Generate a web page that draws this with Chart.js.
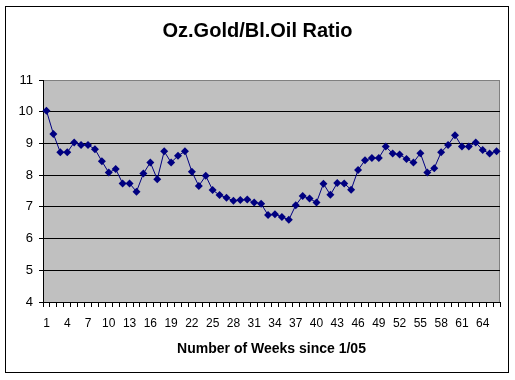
<!DOCTYPE html>
<html>
<head>
<meta charset="utf-8">
<script src="https://cdn.jsdelivr.net/npm/chart.js@4"></script>
<style>
  body { margin: 0; background: #fff; }
  #wrap { width: 515px; height: 380px; }
</style>
</head>
<body>
<div id="wrap"><canvas id="myChart" width="515" height="380"></canvas></div>
<script>
// weeks since 1/05
const weeks = [];
for (let i = 1; i <= 66; i++) weeks.push("" + i);

// oz gold / bbl oil ratio
const ratio = [
  10.03, 9.30, 8.72, 8.72, 9.03, 8.95, 8.95, 8.82, 8.44, 8.08,
  8.19, 7.74, 7.74, 7.48, 8.05, 8.40, 7.87, 8.75, 8.40, 8.61,
  8.75, 8.11, 7.66, 7.98, 7.53, 7.37, 7.29, 7.19, 7.22, 7.23,
  7.14, 7.10, 6.74, 6.77, 6.68, 6.59, 7.05, 7.34, 7.26, 7.14,
  7.73, 7.38, 7.75, 7.74, 7.54, 8.16, 8.47, 8.54, 8.54, 8.90,
  8.68, 8.65, 8.51, 8.40, 8.69, 8.08, 8.22, 8.72, 8.95, 9.26,
  8.90, 8.90, 9.03, 8.79, 8.68, 8.75
];

const yMin = 4;
const yMax = 11;

// gray plot area + outer frame, like the old excel look
const frame = {
  id: "frame",
  beforeDraw(chart) {
    const ctx = chart.ctx;
    const a = chart.chartArea;
    ctx.save();
    ctx.fillStyle = "#fff";
    ctx.fillRect(0, 0, chart.width, chart.height);
    ctx.fillStyle = "#c0c0c0";
    ctx.fillRect(a.left, a.top, a.right - a.left, a.bottom - a.top);
    ctx.strokeStyle = "#808080";
    ctx.lineWidth = 1;
    ctx.beginPath();
    ctx.moveTo(a.left, a.top + 0.5);
    ctx.lineTo(a.right - 0.5, a.top + 0.5);
    ctx.lineTo(a.right - 0.5, a.bottom);
    ctx.stroke();
    ctx.restore();
  },
  afterDraw(chart) {
    const ctx = chart.ctx;
    ctx.save();
    ctx.strokeStyle = "#000";
    ctx.lineWidth = 1;
    ctx.strokeRect(5.5, 6.5, 503, 366);
    ctx.restore();
  }
};

const data = {
  labels: weeks,
  datasets: [
    {
      label: "Ratio",
      data: ratio,
      borderColor: "#000080",
      backgroundColor: "#000080",
      borderWidth: 1,
      pointStyle: "rectRot",
      pointRadius: 4,
      pointBorderWidth: 0,
      tension: 0,
    },
  ],
};

const config = {
  type: "line",
  data: data,
  options: {
    responsive: false,
    animation: false,
    layout: {
      padding: { left: 15, right: 15, top: 0, bottom: 0 },
    },
    plugins: {
      legend: { display: false },
      tooltip: { enabled: false },
      title: {
        display: true,
        text: "Oz.Gold/Bl.Oil Ratio",
        color: "#000",
        font: { family: "Arial, 'Liberation Sans'", size: 20, weight: "bold" },
        padding: { top: 19, bottom: 37 },
      },
    },
    scales: {
      x: {
        offset: true,
        afterFit: (scale) => { scale.height = 78; },
        border: { color: "#000", width: 1 },
        grid: {
          offset: true,
          drawOnChartArea: false,
          drawTicks: true,
          tickLength: 5,
          tickWidth: 1,
          tickColor: "#000",
          color: "#000",
        },
        ticks: {
          autoSkip: false,
          maxRotation: 0,
          padding: 9,
          color: "#000",
          font: { family: "Arial, 'Liberation Sans'", size: 12 },
          callback: function (val, i) {
            return i % 3 === 0 ? weeks[i] : "";
          },
        },
        title: {
          display: true,
          text: "Number of Weeks since 1/05",
          color: "#000",
          font: { family: "Arial, 'Liberation Sans'", size: 14, weight: "bold" },
          padding: { top: 0, bottom: 22.6 },
        },
      },
      y: {
        min: yMin,
        max: yMax,
        afterFit: (scale) => { scale.width = 28; },
        border: { color: "#000", width: 1 },
        grid: {
          color: (c) => (c.tick && c.tick.value === yMax ? "#808080" : "#000"),
          tickColor: "#000",
          tickLength: 4,
        },
        ticks: {
          stepSize: 1,
          padding: 6,
          color: "#000",
          font: { family: "Arial, 'Liberation Sans'", size: 13 },
        },
      },
    },
  },
  plugins: [frame],
};

const myChart = new Chart(document.getElementById("myChart"), config);
</script>
</body>
</html>
